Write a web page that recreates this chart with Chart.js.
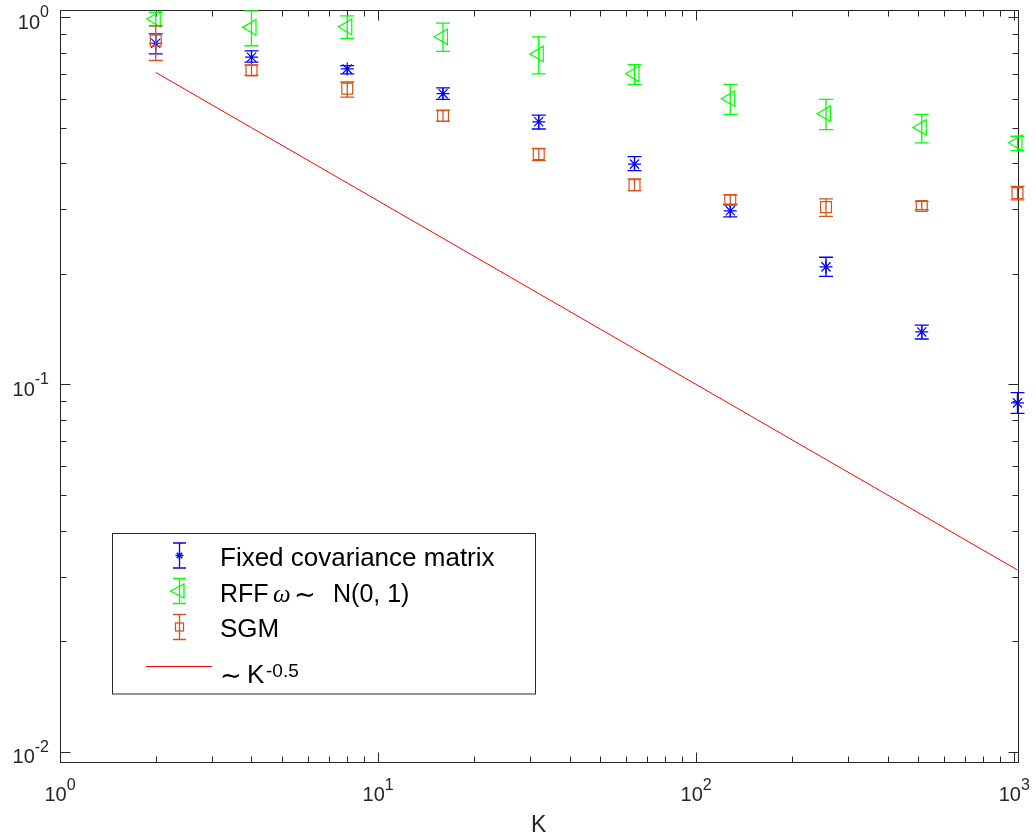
<!DOCTYPE html>
<html>
<head>
<meta charset="utf-8">
<script src="https://cdn.jsdelivr.net/npm/chart.js@4.4.1/dist/chart.umd.min.js"></script>
<style>
  html, body { margin: 0; padding: 0; background: #fff; }
  #wrap { width: 1036px; height: 837px; position: relative; }
</style>
</head>
<body>
<div id="wrap"><canvas id="grafico"></canvas></div>
<script>
// K values on the x axis
const kValues = [2, 4, 8, 16, 32, 64, 128, 256, 512, 1024];

// Fixed covariance matrix: mean and error bar ends
const fixedMean  = [0.849, 0.778, 0.723, 0.619, 0.519, 0.398, 0.297, 0.209, 0.139, 0.0891];
const fixedUpper = [0.900, 0.810, 0.738, 0.642, 0.541, 0.417, 0.309, 0.222, 0.145, 0.0950];
const fixedLower = [0.794, 0.754, 0.701, 0.597, 0.496, 0.382, 0.286, 0.197, 0.133, 0.0834];

// RFF omega ~ N(0, 1)
const rffMean  = [0.988, 0.938, 0.941, 0.884, 0.794, 0.701, 0.600, 0.546, 0.501, 0.455];
const rffUpper = [1.030, 1.040, 1.008, 0.963, 0.884, 0.743, 0.656, 0.597, 0.544, 0.474];
const rffLower = [0.947, 0.836, 0.876, 0.807, 0.701, 0.656, 0.544, 0.494, 0.455, 0.433];

// SGM
const sgmMean  = [0.863, 0.716, 0.639, 0.538, 0.424, 0.349, 0.318, 0.304, 0.306, 0.332];
const sgmUpper = [0.947, 0.741, 0.666, 0.558, 0.439, 0.363, 0.328, 0.320, 0.315, 0.346];
const sgmLower = [0.762, 0.694, 0.606, 0.521, 0.407, 0.337, 0.309, 0.287, 0.299, 0.318];

// reference line ~ K^-0.5
const refLine = [0.7071, 0.5, 0.3536, 0.25, 0.1768, 0.125, 0.0884, 0.0625, 0.0442, 0.03125];

// tick labels (10^exp)
const xTicks = [1, 10, 100, 1000];
const xTickExp = ['0', '1', '2', '3'];
const yTicks = [0.01, 0.1, 1];
const yTickExp = ['-2', '-1', '0'];

const legendLabels = ['Fixed covariance matrix', 'RFF', 'SGM', 'K'];

const fontSans = "'Liberation Sans', Arial, Helvetica, sans-serif";
const axisColor = '#262626';
const blue = '#0000FF';
const green = '#00FF00';
const orange = '#D95319';
const red = '#FF0000';

function toPoints(values) {
    return kValues.map((k, i) => ({ x: k, y: values[i] }));
}

// vertical error bars with caps, drawn right after each dataset
const errorBarPlugin = {
    id: 'errorBars',
    afterDatasetDraw(chart, args) {
        const ds = chart.data.datasets[args.index];
        if (!ds.errLow) return;
        const ctx = chart.ctx;
        const xs = chart.scales.x;
        const ys = chart.scales.y;
        ctx.save();
        ctx.strokeStyle = ds.borderColor;
        ctx.lineWidth = 1.3;
        ds.data.forEach((p, i) => {
            const px = xs.getPixelForValue(p.x);
            const top = ys.getPixelForValue(ds.errHigh[i]);
            const bot = ys.getPixelForValue(ds.errLow[i]);
            ctx.beginPath();
            ctx.moveTo(px, top);
            ctx.lineTo(px, bot);
            ctx.moveTo(px - 7, top);
            ctx.lineTo(px + 7, top);
            ctx.moveTo(px - 7, bot);
            ctx.lineTo(px + 7, bot);
            ctx.stroke();
        });
        ctx.restore();
    }
};

function drawPow(ctx, exp, x, y, align, size, expSize, raise) {
    ctx.font = size + 'px ' + fontSans;
    const w1 = ctx.measureText('10').width;
    ctx.font = expSize + 'px ' + fontSans;
    const w2 = ctx.measureText(exp).width;
    let start = x;
    if (align === 'center') start = x - (w1 + w2) / 2;
    if (align === 'right') start = x - (w1 + w2);
    ctx.textAlign = 'left';
    ctx.textBaseline = 'alphabetic';
    ctx.font = size + 'px ' + fontSans;
    ctx.fillText('10', start, y);
    ctx.font = expSize + 'px ' + fontSans;
    ctx.fillText(exp, start + w1, y - raise);
}

// box, inward ticks on all four sides, tick labels and x title
const axesPlugin = {
    id: 'matlabAxes',
    beforeDatasetsDraw(chart) {
        const ctx = chart.ctx;
        const a = chart.chartArea;
        const xs = chart.scales.x;
        const ys = chart.scales.y;
        ctx.save();
        ctx.strokeStyle = axisColor;
        ctx.lineWidth = 1;
        const L = Math.round(a.left) + 0.5, R = Math.round(a.right) + 0.5;
        const T = Math.round(a.top) + 0.5, B = Math.round(a.bottom) + 0.5;
        ctx.strokeRect(L, T, R - L, B - T);

        const xMinor = [], yMinor = [];
        [1, 10, 100].forEach(d => { for (let m = 2; m <= 9; m++) xMinor.push(m * d); });
        [0.01, 0.1].forEach(d => { for (let m = 2; m <= 9; m++) yMinor.push(m * d); });

        ctx.beginPath();
        function xTick(v, len) {
            const px = Math.round(xs.getPixelForValue(v)) + 0.5;
            ctx.moveTo(px, B); ctx.lineTo(px, B - len);
            ctx.moveTo(px, T); ctx.lineTo(px, T + len);
        }
        function yTick(v, len) {
            const py = Math.round(ys.getPixelForValue(v)) + 0.5;
            ctx.moveTo(L, py); ctx.lineTo(L + len, py);
            ctx.moveTo(R, py); ctx.lineTo(R - len, py);
        }
        xTicks.forEach(v => xTick(v, 10));
        xMinor.forEach(v => xTick(v, 6));
        yTicks.forEach(v => yTick(v, 10));
        yMinor.forEach(v => yTick(v, 6));
        ctx.stroke();

        ctx.fillStyle = axisColor;
        xTicks.forEach((v, i) => {
            drawPow(ctx, xTickExp[i], xs.getPixelForValue(v), a.bottom + 38.5, 'center', 20, 16, 11);
        });
        yTicks.forEach((v, i) => {
            drawPow(ctx, yTickExp[i], a.left - 11, ys.getPixelForValue(v) + 11.5, 'right', 20, 16, 11.5);
        });

        ctx.font = '23px ' + fontSans;
        ctx.textAlign = 'center';
        ctx.fillText('K', (a.left + a.right) / 2, 831.5);
        ctx.restore();
    }
};

function legendBar(ctx, color, x, y) {
    ctx.strokeStyle = color;
    ctx.lineWidth = 1.3;
    ctx.beginPath();
    ctx.moveTo(x, y - 12.5); ctx.lineTo(x, y + 12.5);
    ctx.moveTo(x - 6.5, y - 12.5); ctx.lineTo(x + 6.5, y - 12.5);
    ctx.moveTo(x - 6.5, y + 12.5); ctx.lineTo(x + 6.5, y + 12.5);
    ctx.stroke();
}

// legend box in the lower left
const legendPlugin = {
    id: 'matlabLegend',
    afterDraw(chart) {
        const ctx = chart.ctx;
        ctx.save();
        ctx.fillStyle = '#fff';
        ctx.fillRect(112.5, 533.5, 423, 160.5);
        ctx.strokeStyle = axisColor;
        ctx.lineWidth = 1;
        ctx.strokeRect(112.5, 533.5, 423, 160.5);

        const mx = 179.5;
        // fixed: asterisk
        legendBar(ctx, blue, mx, 555.5);
        ctx.beginPath();
        const r = 4;
        ctx.moveTo(mx - r, 555.5); ctx.lineTo(mx + r, 555.5);
        ctx.moveTo(mx, 555.5 - r); ctx.lineTo(mx, 555.5 + r);
        ctx.moveTo(mx - r * 0.7, 555.5 - r * 0.7); ctx.lineTo(mx + r * 0.7, 555.5 + r * 0.7);
        ctx.moveTo(mx - r * 0.7, 555.5 + r * 0.7); ctx.lineTo(mx + r * 0.7, 555.5 - r * 0.7);
        ctx.stroke();
        // rff: left triangle
        legendBar(ctx, green, mx, 591);
        ctx.beginPath();
        ctx.moveTo(mx - 9, 591);
        ctx.lineTo(mx + 4.5, 591 - 7);
        ctx.lineTo(mx + 4.5, 591 + 7);
        ctx.closePath();
        ctx.stroke();
        // sgm: square
        legendBar(ctx, orange, mx, 627);
        ctx.strokeRect(mx - 4, 623, 8, 8);
        // reference line
        ctx.strokeStyle = red;
        ctx.lineWidth = 1;
        ctx.beginPath();
        ctx.moveTo(146, 666.5); ctx.lineTo(212, 666.5);
        ctx.stroke();

        const simFont = '26px "DejaVu Sans", ' + fontSans;
        ctx.fillStyle = '#000';
        ctx.textAlign = 'left';
        ctx.textBaseline = 'alphabetic';
        ctx.font = '26px ' + fontSans;
        ctx.fillText(legendLabels[0], 220, 566);
        ctx.font = '25px ' + fontSans;
        ctx.fillText(legendLabels[1], 220, 602);
        ctx.font = 'italic 25px "Liberation Serif", "DejaVu Serif", serif';
        ctx.fillText('\u03c9', 273, 602);
        ctx.font = simFont;
        ctx.fillText('\u223c', 294, 603);
        ctx.font = '25px ' + fontSans;
        ctx.fillText('N(0, 1)', 333, 602);
        ctx.font = '26px ' + fontSans;
        ctx.fillText(legendLabels[2], 220, 637);
        ctx.font = simFont;
        ctx.fillText('\u223c', 220, 684);
        ctx.font = '26px ' + fontSans;
        ctx.fillText(legendLabels[3], 247, 683);
        ctx.font = '19px ' + fontSans;
        ctx.fillText('-0.5', 266, 677);
        ctx.restore();
    }
};

const ctx = document.getElementById('grafico').getContext('2d');
const myChart = new Chart(ctx, {
    type: 'scatter',
    data: {
        datasets: [
            {
                label: 'Fixed covariance matrix',
                data: toPoints(fixedMean),
                errHigh: fixedUpper,
                errLow: fixedLower,
                borderColor: blue,
                backgroundColor: 'transparent',
                pointStyle: 'star',
                pointRadius: 6.5,
                pointBorderWidth: 1.2,
                clip: false,
                order: 4
            },
            {
                label: 'RFF',
                data: toPoints(rffMean),
                errHigh: rffUpper,
                errLow: rffLower,
                borderColor: green,
                backgroundColor: 'transparent',
                pointStyle: 'triangle',
                pointRotation: -90,
                pointRadius: 9,
                pointBorderWidth: 1.2,
                clip: false,
                order: 3
            },
            {
                label: 'SGM',
                data: toPoints(sgmMean),
                errHigh: sgmUpper,
                errLow: sgmLower,
                borderColor: orange,
                backgroundColor: 'transparent',
                pointStyle: 'rect',
                pointRadius: 7.7,
                pointBorderWidth: 1.2,
                clip: false,
                order: 2
            },
            {
                label: 'K^-0.5',
                data: toPoints(refLine),
                showLine: true,
                borderColor: red,
                borderWidth: 1,
                pointRadius: 0,
                clip: false,
                order: 1
            }
        ]
    },
    options: {
        responsive: true,
        maintainAspectRatio: false,
        animation: false,
        devicePixelRatio: 1,
        events: [],
        layout: { padding: { left: 60, right: 18.5, top: 6, bottom: 75 } },
        plugins: { legend: { display: false }, tooltip: { enabled: false } },
        scales: {
            x: { type: 'logarithmic', min: 1, max: 1024, display: false },
            y: { type: 'logarithmic', min: 0.00938, max: 1.0446, display: false }
        }
    },
    plugins: [axesPlugin, errorBarPlugin, legendPlugin]
});
</script>
</body>
</html>
